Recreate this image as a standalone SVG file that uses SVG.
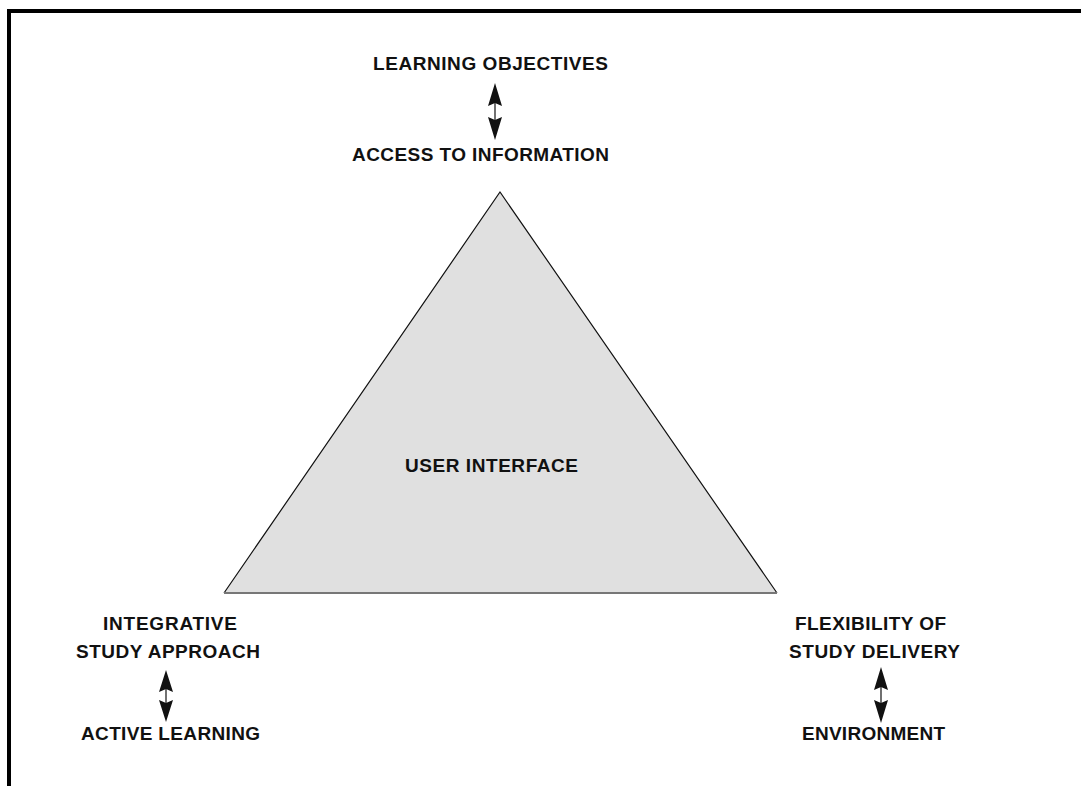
<svg xmlns="http://www.w3.org/2000/svg" width="1081" height="786" viewBox="0 0 1081 786">
<style>
.t{font-family:"Liberation Sans",Arial,sans-serif;font-weight:bold;font-size:19px;fill:#111}
.sh{stroke:#111;stroke-width:1.2;fill:none}
.hd{fill:#111}
</style>
<rect width="1081" height="786" fill="#fff"/>
<g id="frame">
<path d="M9 786 V11 H1081" fill="none" stroke="#000" stroke-width="4"/>
</g>
<g id="triangle">
<polygon points="500,192 224,593 777,593" fill="#e0e0e0"/>
<path d="M224 593 L500 192 L777 593" fill="none" stroke="#111" stroke-width="1.2"/>
<line x1="224" y1="593" x2="777" y2="593" stroke="#777" stroke-width="2.2"/>
<text class="t" x="405" y="472" textLength="173" lengthAdjust="spacing">USER INTERFACE</text>
</g>
<g id="top-labels">
<text class="t" x="373" y="70" textLength="235" lengthAdjust="spacing">LEARNING OBJECTIVES</text>
<text class="t" x="352" y="161" textLength="257" lengthAdjust="spacing">ACCESS TO INFORMATION</text>
</g>
<g id="left-labels">
<text class="t" x="103" y="630" textLength="134" lengthAdjust="spacing">INTEGRATIVE</text>
<text class="t" x="76" y="658" textLength="184" lengthAdjust="spacing">STUDY APPROACH</text>
<text class="t" x="81" y="740" textLength="179" lengthAdjust="spacing">ACTIVE LEARNING</text>
</g>
<g id="right-labels">
<text class="t" x="795" y="630" textLength="151" lengthAdjust="spacing">FLEXIBILITY OF</text>
<text class="t" x="789" y="658" textLength="171" lengthAdjust="spacing">STUDY DELIVERY</text>
<text class="t" x="802" y="740" textLength="143" lengthAdjust="spacing">ENVIRONMENT</text>
</g>
<g id="connectors">
<g id="arrow-top">
<line class="sh" x1="495" y1="100" x2="495" y2="124"/>
<path class="hd" d="M495 83 L502 106 L495 103 L488 106 Z"/>
<path class="hd" d="M495 140 L502 117 L495 120 L488 117 Z"/>
</g>
<g id="arrow-left">
<line class="sh" x1="166" y1="686" x2="166" y2="706"/>
<path class="hd" d="M166 670 L173 692 L166 689 L159 692 Z"/>
<path class="hd" d="M166 722 L173 700 L166 703 L159 700 Z"/>
</g>
<g id="arrow-right">
<line class="sh" x1="881" y1="684" x2="881" y2="706"/>
<path class="hd" d="M881 667 L888 690 L881 687 L874 690 Z"/>
<path class="hd" d="M881 723 L888 700 L881 703 L874 700 Z"/>
</g>
</g>
</svg>
